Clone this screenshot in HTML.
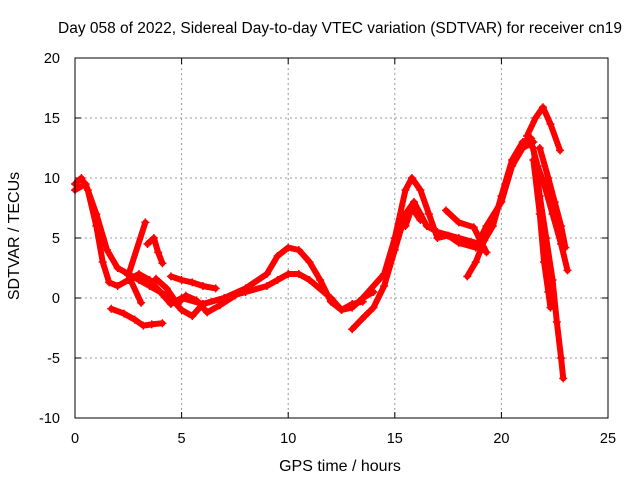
<!DOCTYPE html>
<html><head><meta charset="utf-8"><style>
body{margin:0;background:#fff}
svg{display:block;font-family:"Liberation Sans",sans-serif}
</style></head><body>
<svg id="c" width="640" height="480">
<text x="340" y="33" font-size="15.5" text-anchor="middle">Day 058 of 2022, Sidereal Day-to-day VTEC variation (SDTVAR) for receiver cn19</text>
<text x="340" y="471" font-size="16" text-anchor="middle">GPS time / hours</text>
<text transform="translate(19,236) rotate(-90)" font-size="16" text-anchor="middle">SDTVAR / TECUs</text>
<g id="grid"></g><g id="marks"></g>
<rect x="75" y="58" width="533" height="360" fill="none" stroke="#000"/>
</svg>
<script>
const xTicks=[0,5,10,15,20,25];
const yTicks=[-10,-5,0,5,10,15,20];
const s1=[[0,9.5],[0.3,10],[0.6,9],[1,6],[1.3,3],[1.6,1.3],[2,1],[2.5,1.5],[3,2],[3.5,1.5],[4,0.5],[4.5,0],[5,-1],[5.5,-1.5],[6,-0.5],[7,0],[8,0.5],[9,1],[9.5,1.5],[10,2],[10.5,2],[11,1.5],[12,0],[12.5,-1],[13,-0.5],[13.5,-0.3]];
const s2=[[0,9],[0.5,9.5],[1,7],[1.5,4],[2,2.5],[2.5,2],[3,1.5],[3.5,1],[4,0.5],[4.5,-0.5],[5,0],[6,-0.5],[7,0],[8,0.8],[9,2],[9.5,3.5],[10,4.2],[10.5,4],[11,3],[11.5,1.5],[12,-0.3],[12.5,-1],[13,-0.8],[13.5,0],[14,0.5]];
const s3=[[3.1,-0.4],[2.5,1.9],[3.3,6.3]];
const s4=[[3.4,4.5],[3.7,5],[3.9,3.8],[4.1,2.9]];
const s5=[[1.7,-0.9],[2.3,-1.3],[2.8,-1.8],[3.2,-2.3],[3.6,-2.2],[4.1,-2.1]];
const s6=[[3.8,1.6],[4.3,0.8],[4.8,-0.5],[5.2,0.2],[5.7,-0.2],[6.2,-1.2],[6.8,-0.6],[7.5,0.2]];
const s7=[[4.5,1.8],[5,1.5],[5.5,1.3],[6,1],[6.6,0.8]];
const s8=[[13,-2.6],[13.6,-1.5],[14,-0.8],[14.5,1],[15,4],[15.5,7],[15.9,8],[16.2,7],[16.5,6],[17,5.5],[18,5],[19,4.5]];
const s9=[[13.5,0],[14.5,2],[15,5],[15.5,9],[15.8,10],[16.2,9],[16.6,7],[17,5],[17.5,5.2],[18,4.6],[18.8,4.2],[19.3,6],[20,8],[20.5,11],[21,12.5],[21.5,13]];
const s10=[[15.5,6],[15.8,7.5],[16.2,6.5]];
const s11=[[17.4,7.3],[18,6.3],[18.7,5.9],[19.3,3.8]];
const s12=[[18.4,1.8],[18.8,3],[19.2,4.8],[19.6,6],[20,8.5],[20.5,11.5],[21,13],[21.4,13.3]];
const s13=[[21.2,13.5],[21.6,15],[21.95,15.9],[22.3,14.5],[22.75,12.3]];
const s14=[[21.4,13],[21.7,11],[22,9.5],[22.4,7],[22.8,4.5],[23.1,2.3]];
const s15=[[21.5,12.5],[21.8,8.5],[22.1,5],[22.4,1.5],[22.6,-2],[22.8,-5],[22.9,-6.7]];
const s16=[[21.5,11.5],[21.8,7],[22,3],[22.2,0.5],[22.3,-0.8]];
const s17=[[21.8,12.5],[22.2,10],[22.5,8],[22.8,6],[23,4.2]];
const series=[s1,s2,s3,s4,s5,s6,s7,s8,s9,s10,s11,s12,s13,s14,s15,s16,s17];
const X=h=>75+h*533/25, Y=v=>298-v*12;
const NS="http://www.w3.org/2000/svg";
const svg=document.getElementById('c'),grid=document.getElementById('grid'),marks=document.getElementById('marks');
function mk(tag,a,p){const e=document.createElementNS(NS,tag);for(const k in a)e.setAttribute(k,a[k]);p.appendChild(e);return e;}
xTicks.forEach(t=>{
 if(t>0&&t<25){const l=mk('line',{x1:X(t),x2:X(t),y1:58,y2:418,stroke:'#999','stroke-dasharray':'2,3'},grid);
 
 }
 mk('line',{x1:X(t),x2:X(t),y1:418,y2:412,stroke:'#000'},grid);
 mk('line',{x1:X(t),x2:X(t),y1:58,y2:64,stroke:'#000'},grid);
 const tx=mk('text',{x:X(t),y:443,'font-size':14.5,'text-anchor':'middle'},svg);tx.textContent=t;
 
 
});
yTicks.forEach(t=>{
 if(t>-10&&t<20){const l=mk('line',{x1:75,x2:608,y1:Y(t),y2:Y(t),stroke:'#999','stroke-dasharray':'2,3'},grid);
 
 }
 mk('line',{x1:75,x2:81,y1:Y(t),y2:Y(t),stroke:'#000'},grid);
 mk('line',{x1:608,x2:602,y1:Y(t),y2:Y(t),stroke:'#000'},grid);
 const tx=mk('text',{x:60,y:Y(t)+5,'font-size':14.5,'text-anchor':'end'},svg);tx.textContent=t;
 
 
});
series.forEach((s,i)=>{
 const pl=mk('polyline',{points:s.map(p=>X(p[0])+','+Y(p[1])).join(' '),fill:'none',stroke:'#f00','stroke-width':6,'stroke-linejoin':'round','stroke-linecap':'round'},marks);
 
 
 s.forEach(p=>{
  const m=mk('path',{d:`M${X(p[0])-4},${Y(p[1])}h8M${X(p[0])},${Y(p[1])-4}v8`,stroke:'#f00','stroke-width':1.5},marks);
  
  
 });
});
</script>
</body></html>
